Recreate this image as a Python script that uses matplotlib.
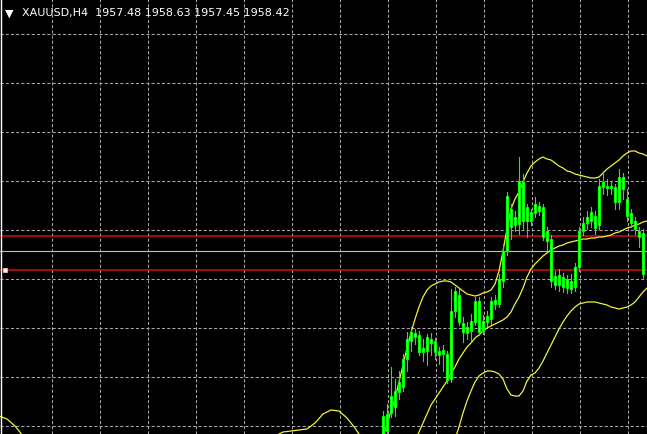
import numpy as np
import matplotlib
matplotlib.use("Agg")
import matplotlib.pyplot as plt
from matplotlib.patches import Rectangle
from matplotlib.lines import Line2D

symbol = "XAUUSD,H4"
last_ohlc = [1957.48, 1958.63, 1957.45, 1958.42]

# H4 candles, first visible bar index 95
first_bar = 95
opens = [1939.6, 1940.4, 1942.2, 1942.8, 1944.3, 1944.8, 1947.6, 1949.4, 1950.2, 1950.0,
         1948.3, 1948.4, 1949.6, 1949.4, 1948.4, 1948.1, 1948.1, 1945.6, 1952.4, 1954.0,
         1951.2, 1950.8, 1950.4, 1951.3, 1953.4, 1950.4, 1951.3, 1951.6, 1953.1, 1953.1,
         1955.4, 1958.4, 1962.6, 1961.8, 1961.1, 1965.3, 1962.8, 1961.4, 1962.2, 1962.4,
         1962.8, 1960.4, 1959.6, 1955.9, 1955.0, 1955.8, 1954.7, 1955.4, 1954.8, 1956.8,
         1960.4, 1961.2, 1962.3, 1961.9, 1961.0, 1964.8, 1964.9, 1964.9, 1964.8, 1963.3,
         1965.8, 1963.6, 1962.2, 1961.4, 1960.4, 1960.2]
highs = [1942.4, 1943.1, 1946.8, 1945.6, 1946.4, 1948.1, 1950.3, 1950.8, 1950.6, 1950.4,
         1949.6, 1950.1, 1950.2, 1949.7, 1948.8, 1949.0, 1948.4, 1954.6, 1954.8, 1954.6,
         1951.8, 1951.3, 1952.1, 1953.8, 1953.8, 1952.0, 1952.4, 1953.8, 1954.0, 1956.1,
         1959.1, 1964.3, 1963.1, 1962.4, 1967.8, 1966.1, 1963.1, 1962.6, 1963.8, 1963.3,
         1963.1, 1960.8, 1960.0, 1956.4, 1956.6, 1956.2, 1956.0, 1956.1, 1957.2, 1960.8,
         1961.8, 1962.4, 1962.8, 1962.4, 1965.6, 1966.4, 1965.6, 1965.4, 1965.1, 1966.6,
         1966.2, 1964.6, 1962.6, 1961.8, 1960.8, 1960.6]
lows = [1939.6, 1939.8, 1941.8, 1941.9, 1943.6, 1944.4, 1946.4, 1948.4, 1949.1, 1948.0,
        1947.4, 1947.0, 1948.0, 1947.6, 1947.1, 1946.4, 1945.2, 1945.3, 1951.8, 1951.0,
        1949.3, 1949.6, 1949.4, 1951.0, 1950.0, 1950.1, 1950.9, 1951.1, 1952.6, 1952.8,
        1954.8, 1958.0, 1959.6, 1960.4, 1960.1, 1960.6, 1959.8, 1961.0, 1961.8, 1962.0,
        1959.5, 1958.4, 1954.8, 1954.6, 1954.4, 1954.3, 1954.2, 1954.2, 1954.4, 1956.4,
        1960.0, 1960.6, 1960.8, 1960.1, 1960.6, 1964.1, 1964.0, 1964.1, 1962.6, 1962.6,
        1963.6, 1961.4, 1960.8, 1960.1, 1958.8, 1955.6]
closes = [1941.9, 1942.1, 1943.9, 1944.4, 1945.3, 1947.6, 1949.6, 1950.3, 1949.8, 1948.3,
          1948.7, 1949.8, 1949.2, 1948.3, 1948.0, 1948.5, 1945.5, 1952.4, 1954.4, 1951.3,
          1950.3, 1950.2, 1951.4, 1953.4, 1950.3, 1951.4, 1951.9, 1953.4, 1953.5, 1955.6,
          1958.4, 1963.9, 1960.8, 1961.0, 1965.4, 1961.4, 1961.4, 1962.3, 1963.1, 1962.9,
          1959.8, 1959.4, 1955.4, 1955.0, 1956.0, 1954.8, 1955.6, 1954.6, 1956.8, 1960.4,
          1961.2, 1961.8, 1961.4, 1960.7, 1964.9, 1965.3, 1964.7, 1964.7, 1963.3, 1965.8,
          1964.6, 1961.9, 1961.2, 1960.6, 1959.8, 1956.1]

# Bollinger bands
upper_left_x = [-1, 1, 3, 5, 7]
upper_left = [1941.9, 1941.6, 1940.9, 1939.9, 1938.6]

upper_x = list(range(66, 95, 2)) + list(range(95, 162))
upper = [1939.1, 1939.9, 1940.3, 1940.4, 1940.5, 1940.6, 1941.2, 1942.1, 1942.5, 1942.4,
         1941.7, 1940.7, 1939.5, 1938.4, 1938.8,
         1939.8, 1941.1, 1942.4, 1943.6, 1945.3, 1947.0, 1948.7, 1950.2, 1951.6, 1952.8,
         1953.8, 1954.5, 1954.9, 1955.1, 1955.3, 1955.4, 1955.4, 1955.3, 1955.0, 1954.7,
         1954.4, 1954.1, 1954.0, 1953.9, 1954.0, 1954.2, 1954.3, 1954.5, 1955.1, 1956.4,
         1958.4, 1960.6, 1962.6, 1963.6, 1964.3, 1965.3, 1966.2, 1966.9, 1967.3, 1967.6,
         1967.8, 1967.6, 1967.5, 1967.2, 1966.9, 1966.7, 1966.4, 1966.3, 1966.1, 1966.0,
         1965.9, 1965.8, 1965.7, 1965.7, 1965.8, 1966.2, 1966.6, 1966.9, 1967.2, 1967.5,
         1967.9, 1968.2, 1968.4, 1968.4, 1968.2, 1968.1, 1967.9]

middle_x = list(range(100, 162))
middle = [1936.6, 1937.6, 1938.6, 1939.5, 1940.3, 1941.2, 1942.1, 1943.0, 1943.6, 1944.2,
          1944.8, 1945.4, 1946.2, 1946.8, 1947.6, 1948.2, 1948.8, 1949.2, 1949.7, 1950.0,
          1950.4, 1950.7, 1950.9, 1951.1, 1951.3, 1951.5, 1951.8, 1952.3, 1953.1, 1953.8,
          1954.7, 1955.8, 1956.6, 1957.1, 1957.5, 1957.9, 1958.2, 1958.5, 1958.7, 1958.9,
          1959.0, 1959.2, 1959.3, 1959.4, 1959.5, 1959.6, 1959.6, 1959.7, 1959.7, 1959.8,
          1959.8, 1959.9, 1960.0, 1960.2, 1960.3, 1960.5, 1960.7, 1960.8, 1961.0, 1961.1,
          1961.3, 1961.4]

lower_x = list(range(108, 162))
lower = [1935.6, 1936.1, 1936.6, 1937.5, 1938.4, 1939.6, 1940.8, 1942.2, 1943.4, 1944.4,
         1945.3, 1945.9, 1946.2, 1946.4, 1946.4, 1946.3, 1946.1, 1945.6, 1944.6, 1944.0,
         1943.9, 1943.9, 1944.4, 1945.4, 1946.0, 1946.2, 1946.7, 1947.4, 1948.2, 1949.0,
         1949.8, 1950.6, 1951.3, 1951.9, 1952.4, 1952.8, 1953.1, 1953.2, 1953.3, 1953.3,
         1953.3, 1953.2, 1953.1, 1953.0, 1952.8, 1952.7, 1952.6, 1952.7, 1952.8, 1953.0,
         1953.3, 1953.8, 1954.3, 1954.7]

red_levels = [1959.9, 1956.5]

fig = plt.figure(figsize=(6.47, 4.35), dpi=100, facecolor="black")
ax = fig.add_axes([0, 0, 1, 1])
ax.set_facecolor("black")
ax.set_xlim(-0.75, 161)
ax.set_ylim(1940.1, 1983.6)
for s in ax.spines.values():
    s.set_visible(False)
ax.set_xticks([])
ax.set_yticks([])

# grid
grid_kw = dict(color="#a8a8a8", lw=0.75, ls=(0, (3, 2)), zorder=1)
for k in range(13):
    ax.axvline(12.25 + 12 * k, **grid_kw)
for k in range(9):
    ax.axhline(1980.1 - 4.9 * k, **grid_kw)

# levels
for lv in red_levels:
    ax.axhline(lv, color="#d01010", lw=1.1, zorder=2)
ax.axhline(last_ohlc[3], color="#c0c0c0", lw=0.8, zorder=2)
ax.plot([0.5], [red_levels[1]], marker="s", ms=3.5, mfc="white", mec="#ffb0b0",
        mew=0.6, zorder=6, clip_on=False)

# bands
band_kw = dict(color="#f2f23c", lw=0.9, zorder=3)
ax.plot(upper_left_x, upper_left, **band_kw)
ax.plot(upper_x, upper, **band_kw)
ax.plot(middle_x, middle, **band_kw)
ax.plot(lower_x, lower, **band_kw)

# candles
w = 0.65
for i in range(len(opens)):
    x = first_bar + i
    o, h, l, c = opens[i], highs[i], lows[i], closes[i]
    ax.plot([x, x], [l, h], color="#00ff00", lw=0.8, zorder=4)
    bot = min(o, c)
    hgt = max(abs(c - o), 0.15)
    ax.add_patch(Rectangle((x - w / 2, bot), w, hgt, facecolor="#8cff8c",
                           edgecolor="#00ff00", lw=0.8, zorder=5))

# left frame line
fig.add_artist(Line2D([0.0015, 0.0015], [0, 1], color="white", lw=1.0,
                      transform=fig.transFigure))

# header text
fig.text(0.008, 0.969, "\u25BC", color="white", fontsize=8, va="center",
         ha="left", family="DejaVu Sans")
fig.text(0.034, 0.969, symbol + "  " + " ".join("%.2f" % v for v in last_ohlc),
         color="white", fontsize=8, va="center", ha="left", family="DejaVu Sans")

fig.savefig("out.png", dpi=100, facecolor="black")
